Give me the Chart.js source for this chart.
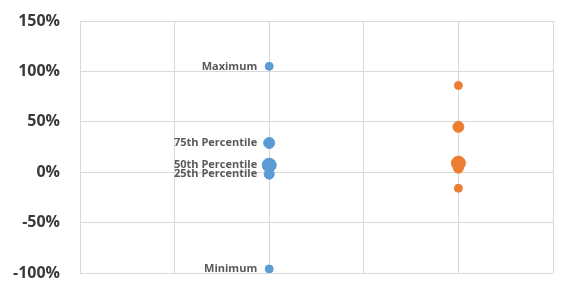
<!DOCTYPE html>
<html lang="en">
<head>
  <meta charset="UTF-8">
  <title>Percentile Range</title>
  <script src="https://cdn.jsdelivr.net/npm/chart.js"></script>
  <style>
    html, body { margin: 0; padding: 0; background: #fff; }
  </style>
</head>
<body>

  <div style="width:571px;height:283px;">
    <canvas id="rangeChart"></canvas>
  </div>

  <script>
    // values
    const statLabels = ['Maximum', '75th Percentile', '50th Percentile', '25th Percentile', 'Minimum'];
    const seriesA = [1.05, 0.29, 0.07, -0.02, -0.96];
    const seriesB = [0.86, 0.45, 0.09, 0.04, -0.16];
    const seriesAX = 2;
    const seriesBX = 4;

    // draw the stat name to the left of each blue point
    const statLabelPlugin = {
      id: 'statLabels',
      afterDatasetsDraw(chart) {
        const ctx = chart.ctx;
        const meta = chart.getDatasetMeta(0);
        ctx.save();
        ctx.font = 'bold 11px "Open Sans", sans-serif';
        ctx.fillStyle = '#595959';
        ctx.textAlign = 'right';
        ctx.textBaseline = 'middle';
        meta.data.forEach((pt, i) => {
          ctx.fillText(statLabels[i], pt.x - 12, pt.y);
        });
        ctx.restore();
      }
    };

    const ctx = document.getElementById('rangeChart').getContext('2d');
    new Chart(ctx, {
      type: 'scatter',
      data: {
        datasets: [
          {
            label: 'A',
            data: seriesA.map(v => ({ x: seriesAX, y: v })),
            backgroundColor: '#5b9bd5',
            borderColor: '#5b9bd5',
            pointRadius: [4, 5.5, 7, 5, 4],
            pointHoverRadius: [4, 5.5, 7, 5, 4]
          },
          {
            label: 'B',
            data: seriesB.map(v => ({ x: seriesBX, y: v })),
            backgroundColor: '#ed7d31',
            borderColor: '#ed7d31',
            pointRadius: [4, 5.5, 7, 5, 4],
            pointHoverRadius: [4, 5.5, 7, 5, 4]
          }
        ]
      },
      options: {
        responsive: true,
        maintainAspectRatio: false,
        animation: false,
        layout: { padding: { top: 21, right: 18, bottom: 10, left: 0 } },
        plugins: {
          legend: { display: false },
          tooltip: { enabled: false }
        },
        scales: {
          x: {
            type: 'linear',
            min: 0,
            max: 5,
            afterFit(scale) { scale.height = 0; },
            ticks: { display: false, stepSize: 1 },
            grid: { color: '#d9d9d9', drawTicks: false },
            border: { display: false }
          },
          y: {
            min: -1,
            max: 1.5,
            afterFit(scale) { scale.width = 80; },
            ticks: {
              stepSize: 0.5,
              padding: 0,
              color: '#3a3a3a',
              font: { family: '"Open Sans", sans-serif', size: 16, weight: 'bold' },
              callback: v => Math.round(v * 100) + '%'
            },
            grid: { color: '#d9d9d9', drawTicks: true, tickLength: 20, tickColor: 'rgba(0,0,0,0)' },
            border: { color: '#d9d9d9' }
          }
        }
      },
      plugins: [statLabelPlugin]
    });
  </script>

</body>
</html>
